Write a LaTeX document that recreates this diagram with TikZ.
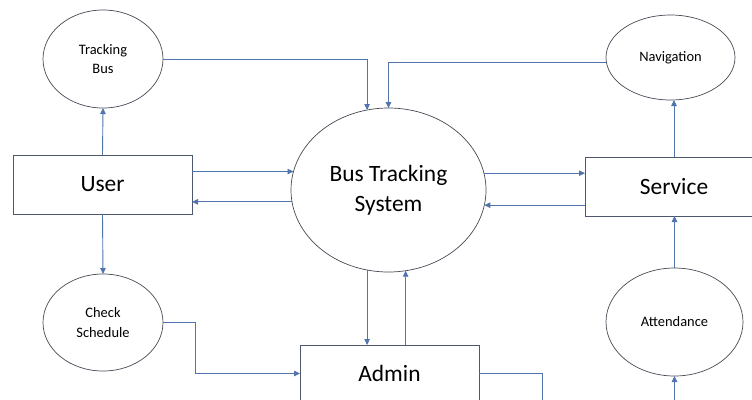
\documentclass[tikz,border=0pt]{standalone}
\usepackage{fontspec}
\setmainfont{Carlito}
\usetikzlibrary{shapes.geometric,arrows.meta}
\definecolor{flow}{RGB}{82,116,172}
\definecolor{edge}{RGB}{70,74,84}
\definecolor{boxedge}{RGB}{78,88,108}
\tikzset{
  proc/.style={ellipse,draw=edge,line width=0.7bp,inner sep=0pt,outer sep=0pt,align=center,font=\fontsize{14.5}{20}\selectfont},
  entity/.style={rectangle,draw=boxedge,line width=0.9bp,inner sep=0pt,outer sep=0pt,font=\fontsize{23.5}{28}\selectfont},
  arr/.style={draw=flow,line width=0.9bp,-{Triangle[length=6bp,width=5.5bp]}},
  ln/.style={draw=flow,line width=0.9bp}
}
\begin{document}
\begin{tikzpicture}[x=1bp,y=-1bp]
\useasboundingbox (0,0) rectangle (752,399);
\begin{scope}
\clip (0,0) rectangle (752,399);
% processes
\node[proc,minimum width=120bp,minimum height=98bp] (tb) at (103,59) {Tracking\\Bus};
\node[proc,minimum width=120bp,minimum height=97bp] (cs) at (103,322.5) {Check\\Schedule};
\node[proc,minimum width=195bp,minimum height=164bp,font=\fontsize{23.5}{30}\selectfont] (bts) at (388.5,190) {Bus Tracking\\System};
\node[proc,minimum width=129bp,minimum height=85bp] (nav) at (670.5,57.5) {Navigation};
\node[proc,minimum width=137bp,minimum height=108bp] (att) at (674.5,322) {Attendance};
% entities
\node[entity,minimum width=179bp,minimum height=59bp] (user) at (102.5,184.5) {User};
\node[entity,minimum width=178bp,minimum height=59bp] (svc) at (674,186.5) {Service};
\node[entity,minimum width=179bp,minimum height=57bp] (admin) at (389.5,373.5) {Admin};
\coordinate (attin) at (674.5,405);
\coordinate (adout) at (542,405);
% connectors
\draw[arr] (user.north) -- (tb.south);
\draw[arr] (tb.east) -| (bts.105);
\draw[arr] (nav.184.6) -| (bts.north);
\draw[arr] (bts.169.9 -| user.east) -- (bts.169.9);
\draw[arr] (bts.187.1) -- (bts.187.1 -| user.east);
\draw[arr] (bts.10.1) -- (bts.10.1 -| svc.west);
\draw[arr] (bts.351.1 -| svc.west) -- (bts.351.1);
\draw[arr] (svc.north) -- (svc.north |- nav.south);
\draw[arr] (att.north) -- (att.north |- svc.south);
\draw[arr] (attin) -- (att.south);
\draw[arr] (user.south) -- (cs.north);
\draw[arr] (cs.east) -- ++(32,0) |- (admin.west);
\draw[arr] (bts.255) -- (bts.255 |- admin.north);
\draw[arr] (bts.282.9 |- admin.north) -- (bts.282.9);
\draw[ln] (admin.east) -| (adout);
\end{scope}
\end{tikzpicture}
\end{document}
